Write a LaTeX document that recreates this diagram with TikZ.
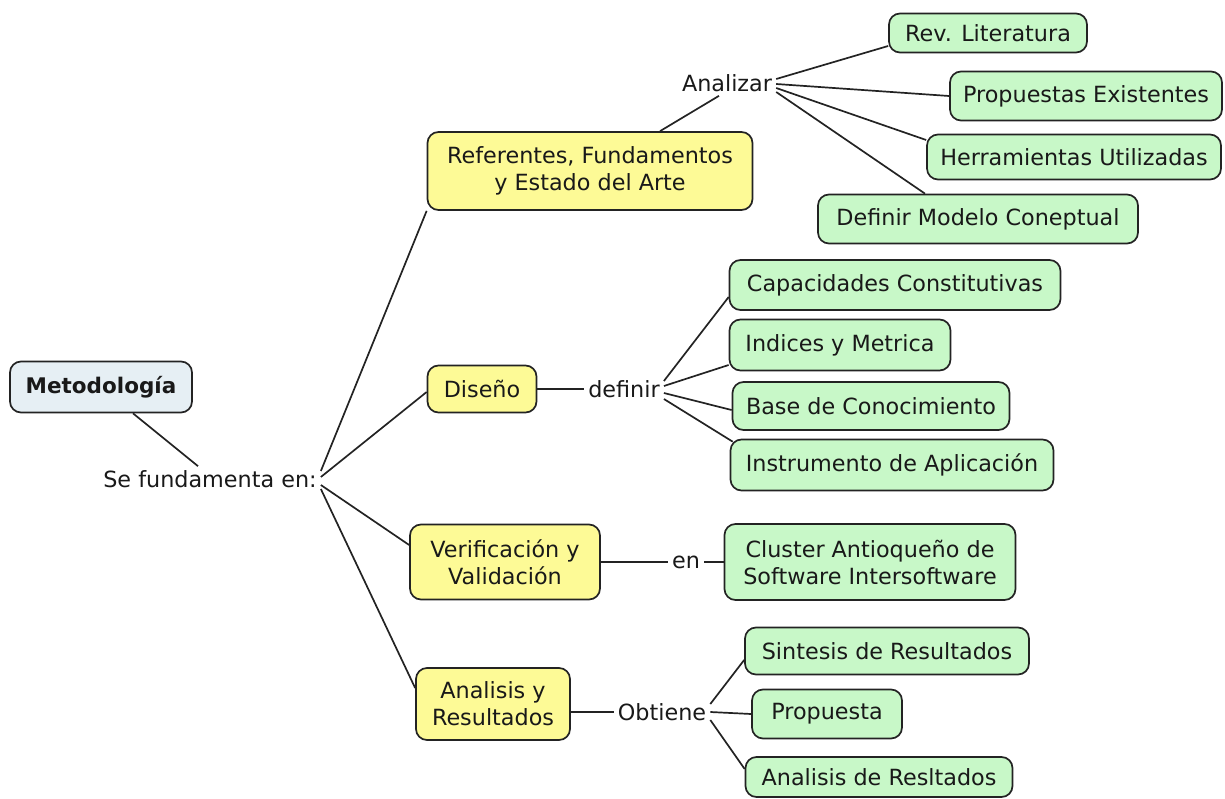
\documentclass[tikz,border=0pt]{standalone}
\usepackage{fontspec}
\setmainfont{DejaVu Sans}
\definecolor{edge}{RGB}{35,35,35}
\definecolor{rootfill}{RGB}{230,239,244}
\definecolor{topicfill}{RGB}{253,250,150}
\definecolor{leaffill}{RGB}{200,248,200}
\begin{document}
\begin{tikzpicture}[x=1pt,y=-1pt,
  every node/.style={font=\fontsize{22.3}{27}\selectfont, align=center, inner sep=0pt, text=black!90},
  box/.style={draw=edge, line width=1.7pt, rounded corners=11pt},
  root/.style={box, fill=rootfill, font=\fontsize{21.5}{27}\selectfont\bfseries},
  topic/.style={box, fill=topicfill},
  leaf/.style={box, fill=leaffill},
  verb/.style={inner sep=4pt},
  link/.style={line width=1.7pt, draw=edge}]
\useasboundingbox (0,0) rectangle (1225,799);

% root and its linking phrase
\node[root, minimum width=182, minimum height=51] (met) at (101,387) {Metodología};
\node[verb] (se) at (210,479) {Se fundamenta en:};

% main topics
\node[topic, minimum width=325, minimum height=78] (ref) at (590,171) {Referentes, Fundamentos\\y Estado del Arte};
\node[topic, minimum width=109, minimum height=47] (dis) at (482,389) {Diseño};
\node[topic, minimum width=190, minimum height=75] (ver) at (505,562) {Verificación y\\Validación};
\node[topic, minimum width=154, minimum height=72] (ana) at (493,704) {Analisis y\\Resultados};

% linking phrases
\node[verb] (an) at (727,83) {Analizar};
\node[verb] (defi) at (624,389) {definir};
\node[verb] (en) at (686,562) {en};
\node[verb] (obt) at (662,712) {Obtiene};

% leaves
\node[leaf, minimum width=198, minimum height=39] (rev) at (988,33) {Rev. Literatura};
\node[leaf, minimum width=272, minimum height=49] (pro) at (1086,96) {Propuestas Existentes};
\node[leaf, minimum width=294, minimum height=45] (her) at (1074,157) {Herramientas Utilizadas};
\node[leaf, minimum width=320, minimum height=49] (def) at (978,219) {Definir Modelo Coneptual};

\node[leaf, minimum width=331, minimum height=50] (cap) at (895,285) {Capacidades Constitutivas};
\node[leaf, minimum width=221, minimum height=51] (ind) at (840,345) {Indices y Metrica};
\node[leaf, minimum width=277, minimum height=48] (bas) at (871,406) {Base de Conocimiento};
\node[leaf, minimum width=323, minimum height=51] (ins) at (892,465) {Instrumento de Aplicación};

\node[leaf, minimum width=291, minimum height=76] (clu) at (870,562) {Cluster Antioqueño de\\Software Intersoftware};

\node[leaf, minimum width=284, minimum height=47] (sin) at (887,651) {Sintesis de Resultados};
\node[leaf, minimum width=150, minimum height=49] (prp) at (827,714) {Propuesta};
\node[leaf, minimum width=267, minimum height=40] (ars) at (879,777) {Analisis de Resltados};

% connectors
\draw[link] ([xshift=32]met.south) -- ([xshift=-12]se.north);

\draw[link] ([yshift=8]se.east) -- (ref.south west);
\draw[link] ([yshift=2]se.east) -- ([yshift=-3]dis.west);
\draw[link] ([yshift=-6]se.east) -- ([yshift=17]ver.west);
\draw[link] ([yshift=-10]se.east) -- ([yshift=16]ana.west);

\draw[link] ([xshift=70]ref.north) -- ([xshift=-8]an.south);
\draw[link] ([yshift=4]an.east) -- ([yshift=-13]rev.west);
\draw[link] ([yshift=-1]an.east) -- (pro.west);
\draw[link] ([yshift=-5]an.east) -- ([yshift=17]her.west);
\draw[link] ([yshift=-9]an.east) -- ([xshift=-53]def.north);

\draw[link] (dis.east) -- (defi.west);
\draw[link] ([yshift=8]defi.east) -- ([yshift=-12]cap.west);
\draw[link] ([yshift=3]defi.east) -- ([yshift=-20]ind.west);
\draw[link] ([yshift=-4]defi.east) -- ([yshift=-4]bas.west);
\draw[link] ([yshift=-10]defi.east) -- ([xshift=3,yshift=-3]ins.north west);

\draw[link] (ver.east) -- (en.west);
\draw[link] (en.east) -- (clu.west);

\draw[link] (ana.east |- obt.west) -- (obt.west);
\draw[link] ([yshift=8]obt.east) -- ([yshift=-9]sin.west);
\draw[link] (obt.east) -- (prp.west);
\draw[link] ([yshift=-8]obt.east) -- ([yshift=8]ars.west);
\end{tikzpicture}
\end{document}
